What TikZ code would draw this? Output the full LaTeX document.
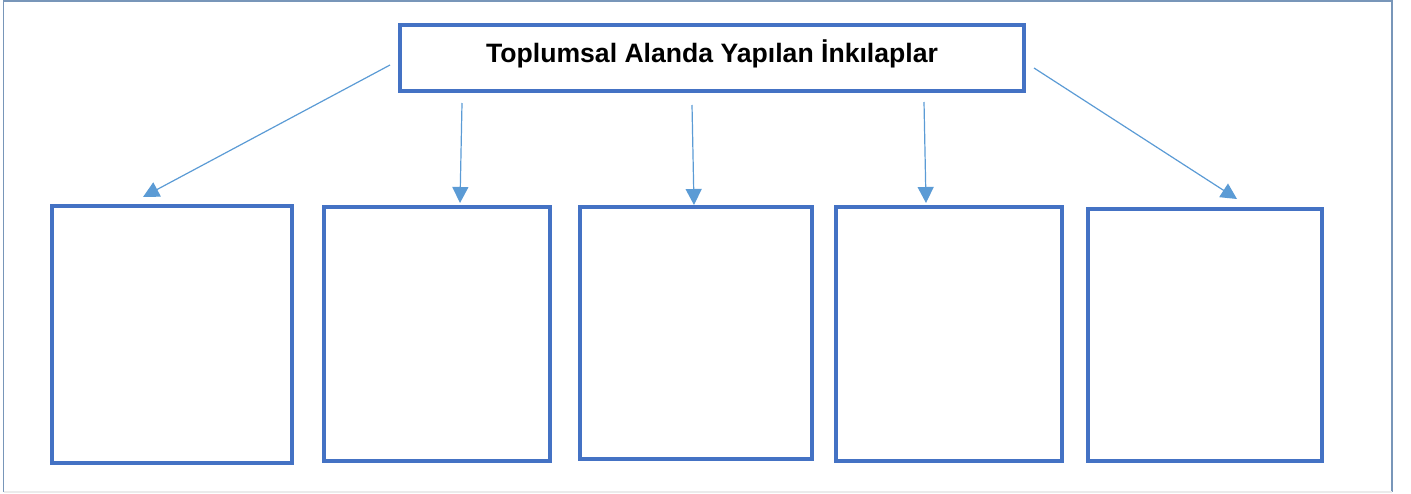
\documentclass[tikz,border=0pt]{standalone}
\usepackage{fontspec}
\setmainfont{Liberation Sans}
\usepackage{xcolor}
\usepackage{tikz}
\usetikzlibrary{positioning,arrows.meta}
\tikzset{c-box/.style={rectangle, draw=c_box, line width=1.7pt, fill=white, inner sep=0pt},
arrow/.style={draw=c_arrow, line width=0.6pt, -{Triangle[width=8pt,length=8pt,fill=c_arrow]}}}
\definecolor{c_frame}{RGB}{120,150,185}
\definecolor{c_box}{RGB}{68,114,196}
\definecolor{c_arrow}{RGB}{91,155,213}

\begin{document}
\begin{tikzpicture}[x=0.5pt, y=-0.5pt]
\useasboundingbox (0,0) rectangle (1411,493);
\draw [c_frame, line width=0.7pt] (3.5,492) -- (3.5,1) -- (1392,1) -- (1392,492);
\draw [black!8, line width=0.7pt] (3.5,492) -- (1392,492);
\node (title) [c-box, minimum width=312pt, text height=18.5pt, text depth=14.5pt,
  font=\bfseries\fontsize{13.3}{16}\selectfont] at (712,58) {Toplumsal Alanda Yapılan İnkılaplar};
\node (b1) [c-box, minimum width=120pt, minimum height=128.5pt] at (172,334.5) {};
\node (b2) [c-box, minimum width=113pt, minimum height=127pt] at (437,334) {};
\node (b3) [c-box, minimum width=116pt, minimum height=126pt] at (696,333) {};
\node (b4) [c-box, minimum width=113pt, minimum height=127pt] at (949,334) {};
\node (b5) [c-box, minimum width=117pt, minimum height=126pt] at (1205,335) {};
% free arrow ends
\coordinate (s1) at (390,65);
\coordinate (s2) at (462,103);
\coordinate (s3) at (692,105);
\coordinate (s4) at (924,102);
\coordinate (s5) at (1034,68);
\coordinate (e1) at (143,197);
\coordinate (e2) at (460,203);
\coordinate (e3) at (694,205);
\coordinate (e4) at (926,203);
\coordinate (e5) at (1237,199);
\foreach \i in {1,...,5}
  \draw [arrow] (s\i) -- (e\i);
\end{tikzpicture}
\end{document}
